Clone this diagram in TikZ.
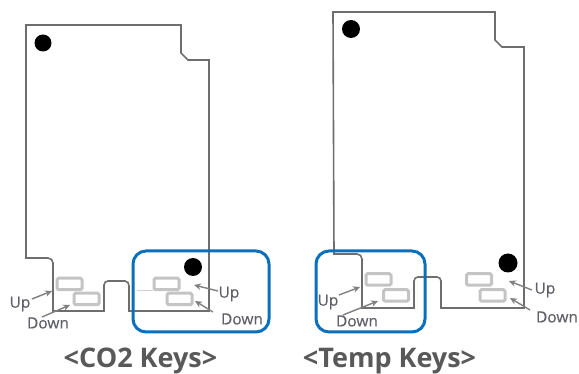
\documentclass[tikz,border=0pt]{standalone}
\usepackage{fontspec}
\setmainfont{Open Sans}
\newfontfamily\labelfont[FakeBold=0.25]{Open Sans}
\usetikzlibrary{arrows.meta}
\definecolor{outlinec}{HTML}{6E6E6E}
\definecolor{keyc}{HTML}{C4C4C4}
\definecolor{blueb}{HTML}{0A70BC}
\definecolor{labelc}{HTML}{5F6068}
\definecolor{titlec}{HTML}{595959}
\definecolor{arrowc}{HTML}{808080}
\tikzset{
  outline/.style={draw=outlinec,line width=1.6pt,line join=miter},
  keybox/.style={draw=keyc,line width=3pt,rounded corners=1.5pt,minimum width=#1,minimum height=11.5pt,inner sep=0pt,anchor=center},
  keybox/.default=25pt,
  dotmark/.style={circle,fill=black,inner sep=0pt,minimum size=#1},
  bluebox/.style={draw=blueb,line width=3pt,rounded corners=13pt},
  keylabel/.style={text=labelc,font=\labelfont\fontsize{15.5}{16}\selectfont,inner sep=0pt},
  keytitle/.style={text=titlec,font=\fontsize{27}{28}\selectfont\bfseries,inner sep=0pt},
  pointer/.style={draw=arrowc,line width=1.4pt,-{Stealth[length=7pt,width=6.5pt]}},
  faint/.style={draw=black!18,line width=0.9pt}
}
\begin{document}
\begin{tikzpicture}[x=1pt,y=-1pt]
\useasboundingbox (0,0) rectangle (579,374);
% left board
\draw[outline] (26,25) -- (181,25) -- (181,53) -- (188,60) -- (209,60) -- (209,311) -- (129,311)
  -- (129,286) to[out=90,in=0] (125,281) -- (108,281) to[out=180,in=90] (104,285) -- (104,311) -- (53,311)
  -- (53,263) to[out=90,in=0] (48,258) -- (26,258) -- cycle;
\draw[faint] (137,290) -- (153,290);
\draw[faint] (166,293) -- (193,293);
\node[dotmark=17pt] (dotA) at (43,43) {};
\node[dotmark=18pt] (dotB) at (193,267) {};
\node[keybox=25pt] (k1) at (69.5,284) {};
\node[keybox=25pt] (k2) at (86.5,299) {};
\node[keybox=25pt] (k3) at (166.5,284) {};
\node[keybox=25pt] (k4) at (179.5,299) {};
% right board
\draw[outline] (333,12) -- (495,12) -- (495,40) -- (502,47) -- (524,47) -- (524,308) -- (441,308)
  -- (441,281) to[out=90,in=0] (437,277) -- (418,277) to[out=180,in=90] (414,281) -- (414,308) -- (362,308)
  -- (362,259) to[out=90,in=0] (357,254) -- (334,254) -- cycle;
\node[dotmark=18pt] (dotC) at (351,29) {};
\node[dotmark=19pt] (dotD) at (508,263) {};
\node[keybox=25pt] (k5) at (378.5,279.5) {};
\node[keybox=25pt] (k6) at (396,295.5) {};
\node[keybox=25pt] (k7) at (479,279.5) {};
\node[keybox=25pt] (k8) at (492.5,295.5) {};
% blue frames
\node[bluebox,minimum width=136pt,minimum height=81pt,inner sep=0pt] (frameA) at (201,291.5) {};
\node[bluebox,minimum width=109pt,minimum height=81pt,inner sep=0pt] (frameB) at (370.5,291.5) {};
% labels
\node[keylabel] (u1) at (20,304) {Up};
\node[keylabel] (d1) at (48,323) {Down};
\node[keylabel] (u2) at (229,294) {Up};
\node[keylabel] (d2) at (242,319) {Down};
\node[keylabel] (u3) at (328,302) {Up};
\node[keylabel] (d3) at (357,321) {Down};
\node[keylabel] (u4) at (545,290) {Up};
\node[keylabel] (d4) at (557,317) {Down};
\node[keytitle] (t1) at (140.5,361) {<CO2 Keys>};
\node[keytitle] (t2) at (389.5,361) {<Temp Keys>};
% pointers
\coordinate (a1s) at (32,299); \coordinate (a1e) at (52,291);
\coordinate (a2s) at (42,317); \coordinate (a2e) at (70,305);
\coordinate (a3s) at (218,291); \coordinate (a3e) at (194,285);
\coordinate (a4s) at (213,312); \coordinate (a4e) at (195,301);
\coordinate (a5s) at (339,295); \coordinate (a5e) at (360,287);
\coordinate (a6s) at (343,315); \coordinate (a6e) at (378,301);
\coordinate (a7s) at (532,290); \coordinate (a7e) at (509,281);
\coordinate (a8s) at (530,310); \coordinate (a8e) at (510,298);
\foreach \n in {1,...,8} \draw[pointer] (a\n s) -- (a\n e);
\end{tikzpicture}
\end{document}
